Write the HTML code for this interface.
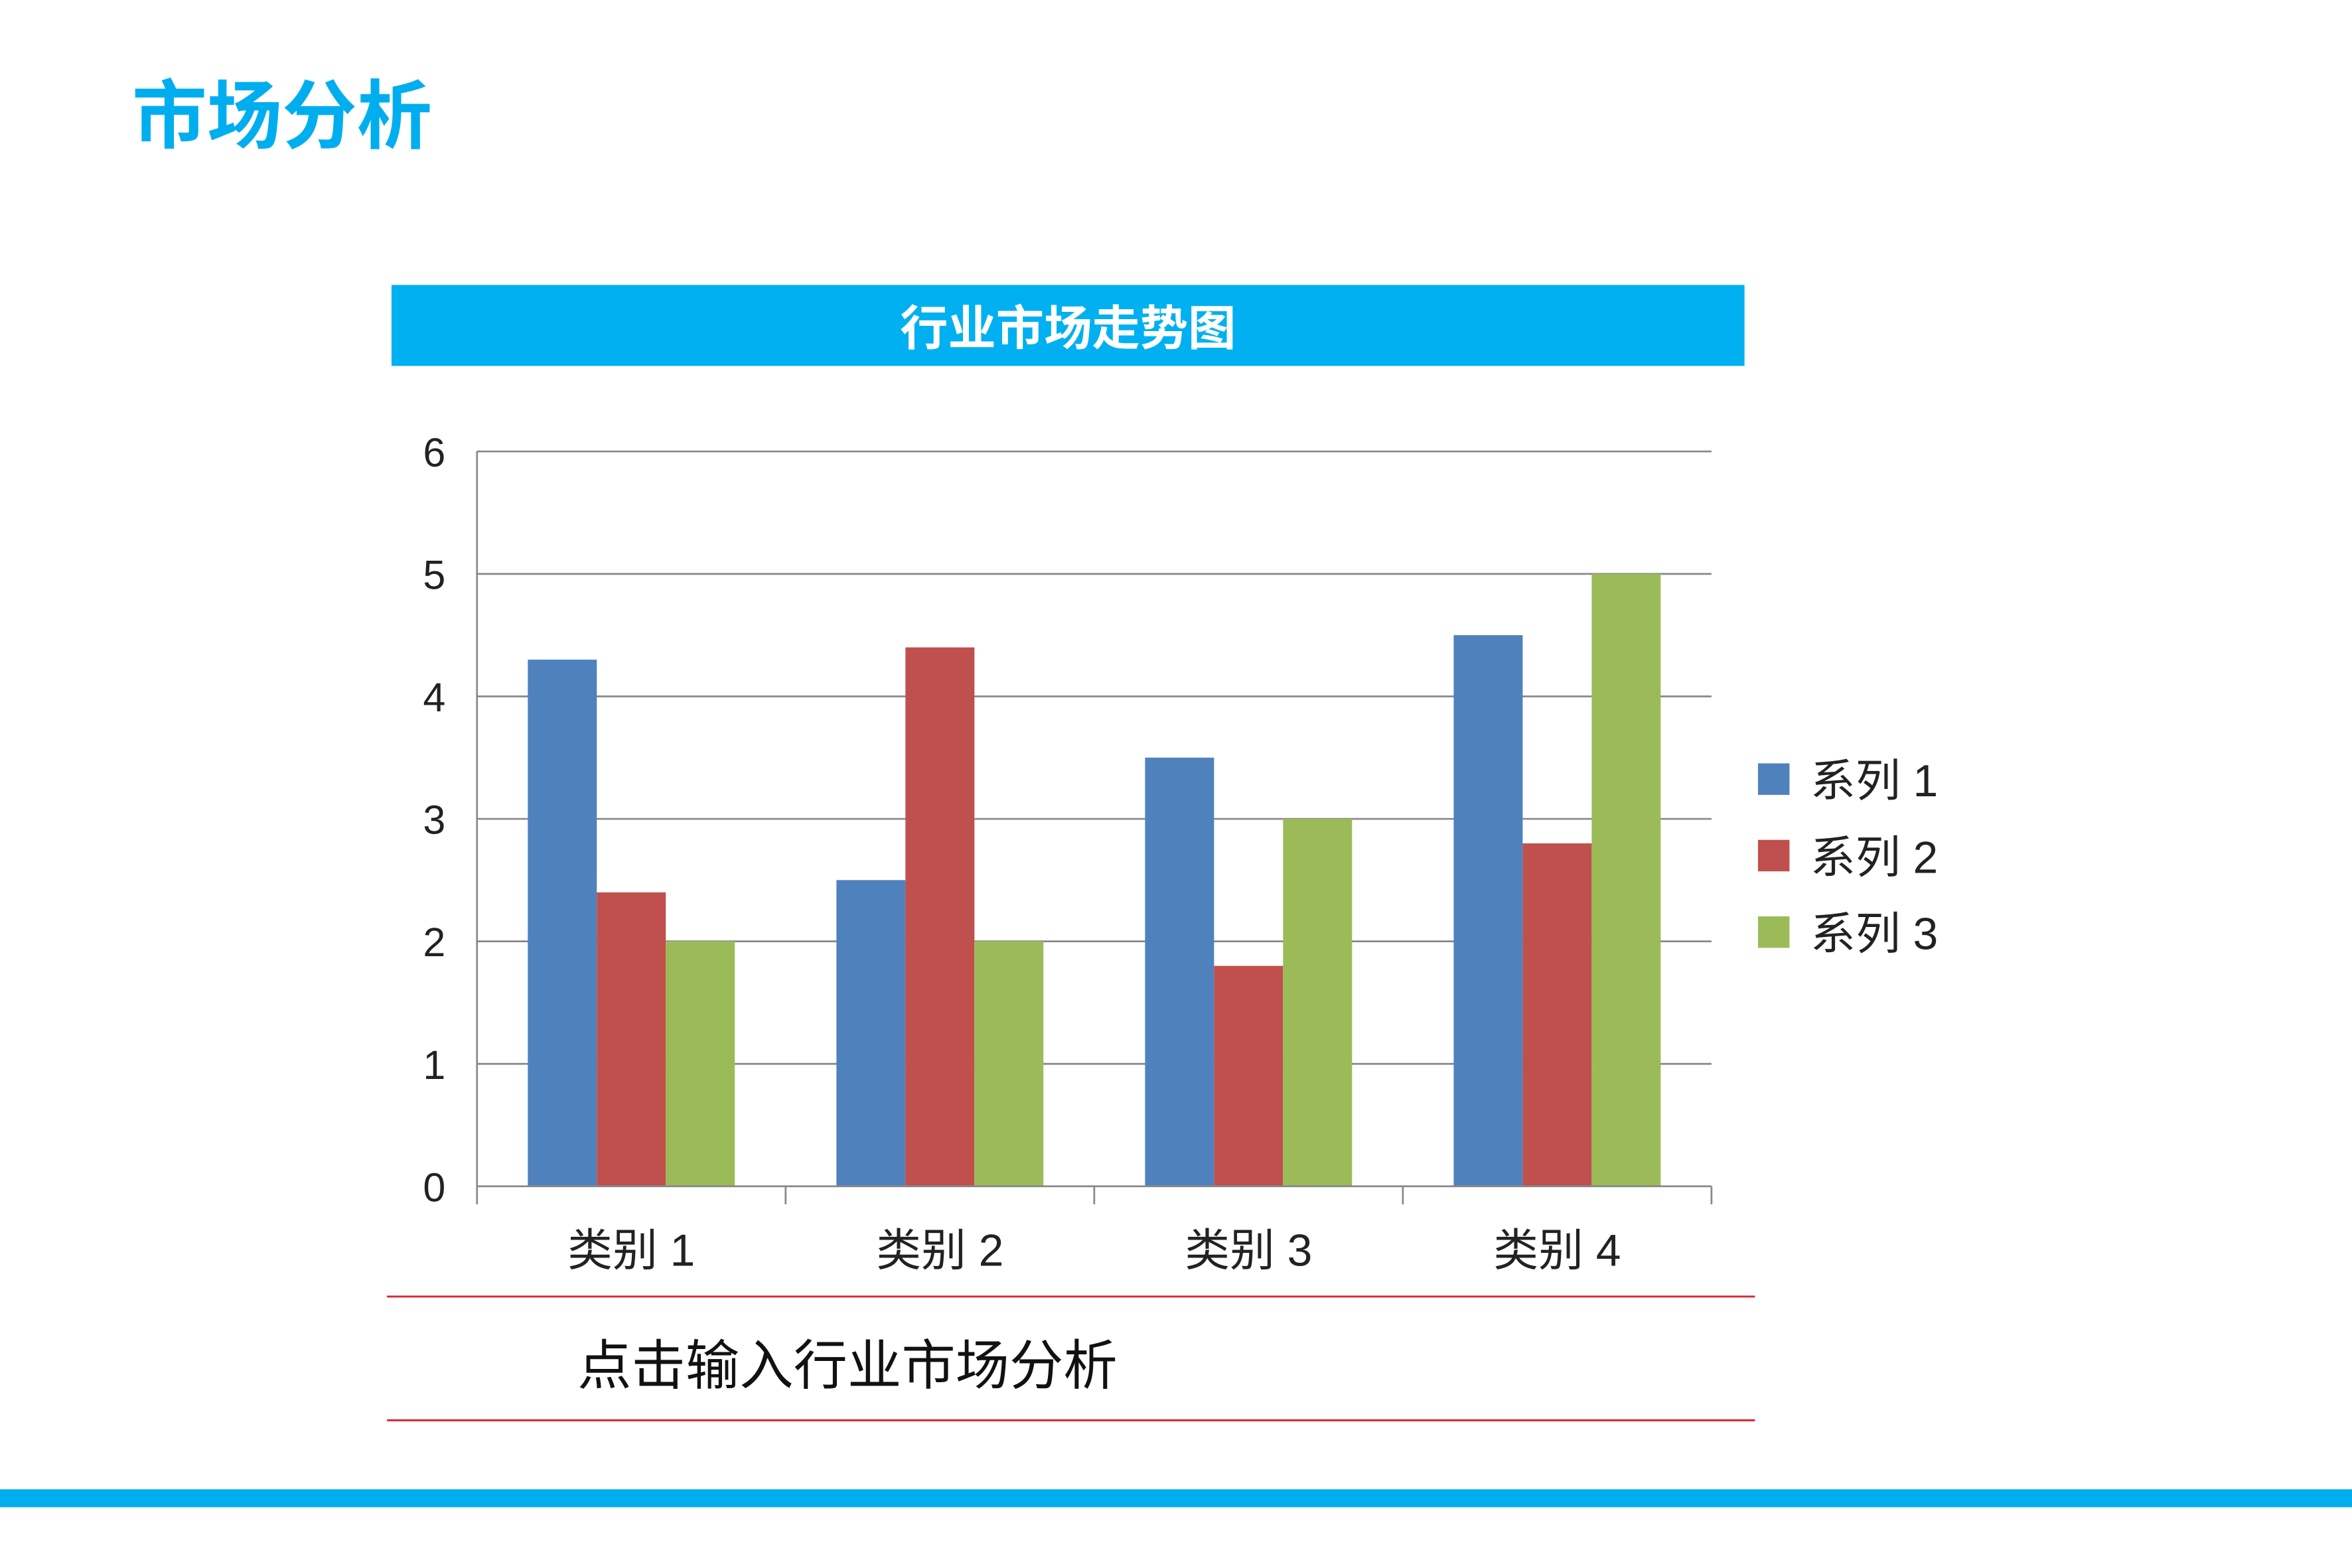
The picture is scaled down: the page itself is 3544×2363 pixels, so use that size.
<!DOCTYPE html>
<html><head><meta charset="utf-8"><style>
html,body{margin:0;padding:0;background:#fff;}
svg{display:block;}
text{font-family:"Liberation Sans","Noto Sans CJK SC",sans-serif;}
</style></head><body>
<svg id="chart" width="3544" height="2363" viewBox="0 0 1568 1045.5" preserveAspectRatio="none" xmlns="http://www.w3.org/2000/svg">
<text x="88" y="95" font-size="50" font-weight="bold" fill="#00AEEF">市场分析</text>
<rect x="261" y="190" width="902" height="54" fill="#00B0F0"/>
<text x="712" y="230" font-size="32" font-weight="bold" fill="#fff" text-anchor="middle">行业市场走势图</text>
<g id="grid"></g>
<g id="bars"></g>
<g id="axes"></g>
<g id="legend"></g>
<line x1="258" y1="864.5" x2="1170" y2="864.5" stroke="#D9262B" stroke-width="1.3"/>
<text x="385" y="923" font-size="36" fill="#111">点击输入行业市场分析</text>
<line x1="258" y1="947" x2="1170" y2="947" stroke="#D9262B" stroke-width="1.3"/>
<rect x="0" y="993" width="1568" height="12" fill="#00AEEF"/>
</svg>
<script>
const categories = ["类别 1","类别 2","类别 3","类别 4"];
const seriesNames = ["系列 1","系列 2","系列 3"];
const series1 = [4.3,2.5,3.5,4.5];
const series2 = [2.4,4.4,1.8,2.8];
const series3 = [2,2,3,5];
const yTicks = [0,1,2,3,4,5,6];
const colors = ["#4F81BD","#C0504D","#9BBB59"];
const NS="http://www.w3.org/2000/svg";
const x0=318,x1=1141,yBase=791,yTop=301,yMax=6;
const y=v=>yBase-(v/yMax)*(yBase-yTop);
const bw=(x1-x0)/categories.length;
function mk(tag,attrs,parent){const e=document.createElementNS(NS,tag);for(const k in attrs)e.setAttribute(k,attrs[k]);parent.appendChild(e);return e;}
const grid=document.getElementById('grid'),bars=document.getElementById('bars'),axes=document.getElementById('axes'),legend=document.getElementById('legend');
yTicks.forEach(t=>{
  if(t>0){const l=mk('line',{x1:x0,x2:x1,y1:y(t),y2:y(t),stroke:'#888','stroke-width':1.2},grid);
  
  }
  const tx=mk('text',{x:297,y:y(t)+10,'font-size':27,fill:'#222','text-anchor':'end'},axes);
  tx.textContent=t;
  
  
});
const all=[series1,series2,series3];
const barW=46;
categories.forEach((c,i)=>{
  const start=x0+i*bw+(bw-3*barW)/2;
  all.forEach((s,j)=>{
    const r=mk('rect',{x:start+j*barW,y:y(s[i]),width:barW,height:yBase-y(s[i]),fill:colors[j]},bars);
    
    
  });
  const t=mk('text',{x:x0+i*bw+bw/2,y:844,'font-size':30,fill:'#222','text-anchor':'middle'},axes);
  t.textContent=c;
  
  
});
for(let i=0;i<=categories.length;i++){
  const l=mk('line',{x1:x0+i*bw,x2:x0+i*bw,y1:yBase,y2:803,stroke:'#888','stroke-width':1.2},axes);
  
  
}
const xa=mk('line',{x1:x0,x2:x1,y1:yBase,y2:yBase,stroke:'#888','stroke-width':1.2},axes);


const ya=mk('line',{x1:x0,x2:x0,y1:yTop,y2:yBase,stroke:'#888','stroke-width':1.2},axes);


seriesNames.forEach((n,j)=>{
  const r=mk('rect',{x:1172,y:509+j*51,width:21,height:21,fill:colors[j]},legend);
  
  
  const t=mk('text',{x:1207,y:531+j*51,'font-size':30,fill:'#222'},legend);
  t.textContent=n;
  
  
});
</script>
</body></html>
